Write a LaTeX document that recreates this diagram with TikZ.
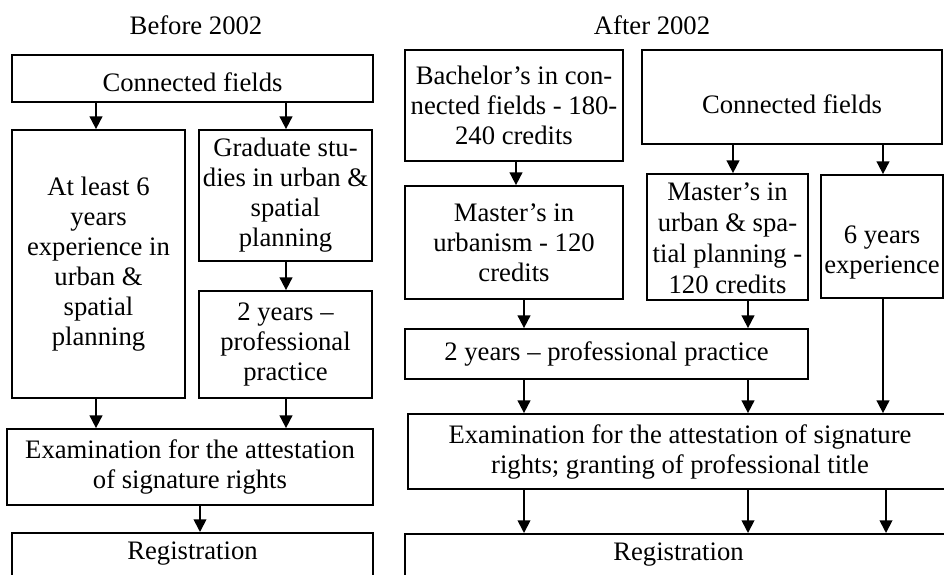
\documentclass[tikz,border=0pt]{standalone}
\usepackage{fontspec}
\setmainfont{Liberation Serif}
\usetikzlibrary{arrows.meta}
\begin{document}
\begin{tikzpicture}[x=0.75pt,y=-0.75pt,
  box/.style={draw, line width=1.3pt, align=center, inner sep=0pt,
    font=\fontsize{20}{22.5}\selectfont},
  arr/.style={-{Triangle[width=9.5pt,length=9.5pt]}, line width=1.3pt},
  ttl/.style={font=\fontsize{20}{22.5}\selectfont}]
\useasboundingbox (0,0) rectangle (944,574);
\clip (0,0) rectangle (944,574);

% titles
\node[ttl] (t1) at (196,25) {Before 2002};
\node[ttl] (t2) at (652,25) {After 2002};

% ---- before 2002 ----
\node[box, minimum width=270.75pt, minimum height=35.25pt, text height=19pt, text depth=0pt] (cf1) at (192.5,78.5) {Connected fields};
\node[box, minimum width=129.75pt, minimum height=201pt] (exp1) at (98.5,264) {At least 6\\years\\experience in\\urban \&\\spatial\\planning};
\node[box, minimum width=129.75pt, minimum height=98.25pt] (grad) at (285.5,195.5) {Graduate stu-\\dies in urban \&\\spatial\\planning};
\node[box, minimum width=129.75pt, minimum height=80.25pt] (prac1) at (285.5,344.5) {2 years --\\professional\\practice};
\node[box, minimum width=274.5pt, minimum height=57pt] (exam1) at (190,467) {Examination for the attestation\\of signature rights};
\node[box, minimum width=270.75pt, anchor=north, text height=20.25pt, text depth=67.5pt] (reg1) at (192.5,532) {Registration};

\draw[arr] (96,0 |- cf1.south) -- (96,0 |- exp1.north);
\draw[arr] (286,0 |- cf1.south) -- (286,0 |- grad.north);
\draw[arr] (286,0 |- grad.south) -- (286,0 |- prac1.north);
\draw[arr] (96,0 |- exp1.south) -- (96,0 |- exam1.north);
\draw[arr] (286,0 |- prac1.south) -- (286,0 |- exam1.north);
\draw[arr] (200,0 |- exam1.south) -- (200,0 |- reg1.north);

% ---- after 2002 ----
\node[box, minimum width=163.5pt, minimum height=83.25pt] (bach) at (514,105.5) {Bachelor’s in con-\\nected fields - 180-\\240 credits};
\node[box, minimum width=225pt, minimum height=70.5pt, text height=24.2pt, text depth=0pt] (cf2) at (792,97) {Connected fields};
\node[box, minimum width=163.5pt, minimum height=84.75pt] (murb) at (514,242.5) {Master’s in\\urbanism - 120\\credits};
\node[box, minimum width=120.75pt, minimum height=94.5pt] (mus) at (727.5,237) {\raisebox{-8pt}[0pt][0pt]{\fontsize{20}{23.25}\selectfont\begin{tabular}{@{}c@{}}Master’s in\\urban \& spa-\\tial planning -\\120 credits\end{tabular}}};
\node[box, minimum width=91.5pt, minimum height=92.25pt] (exp2) at (882,236.5) {\raisebox{-17pt}[0pt][0pt]{\begin{tabular}{@{}c@{}}6 years\\experience\end{tabular}}};
\node[box, minimum width=302.25pt, minimum height=37.5pt] (prac2) at (606.5,354) {2 years – professional practice};
\node[box, minimum width=408pt, minimum height=56.25pt] (exam2) at (680,451.5) {Examination for the attestation of signature\\rights; granting of professional title};
\node[box, minimum width=410.25pt, anchor=north, text height=20.25pt, text depth=67.5pt] (reg2) at (678.5,533) {Registration};

\draw[arr] (516,0 |- bach.south) -- (516,0 |- murb.north);
\draw[arr] (733,0 |- cf2.south) -- (733,0 |- mus.north);
\draw[arr] (883,0 |- cf2.south) -- (883,0 |- exp2.north);
\draw[arr] (524,0 |- murb.south) -- (524,0 |- prac2.north);
\draw[arr] (748,0 |- mus.south) -- (748,0 |- prac2.north);
\draw[arr] (883,0 |- exp2.south) -- (883,0 |- exam2.north);
\draw[arr] (524,0 |- prac2.south) -- (524,0 |- exam2.north);
\draw[arr] (748,0 |- prac2.south) -- (748,0 |- exam2.north);
\draw[arr] (524,0 |- exam2.south) -- (524,0 |- reg2.north);
\draw[arr] (748,0 |- exam2.south) -- (748,0 |- reg2.north);
\draw[arr] (886,0 |- exam2.south) -- (886,0 |- reg2.north);
\end{tikzpicture}
\end{document}
